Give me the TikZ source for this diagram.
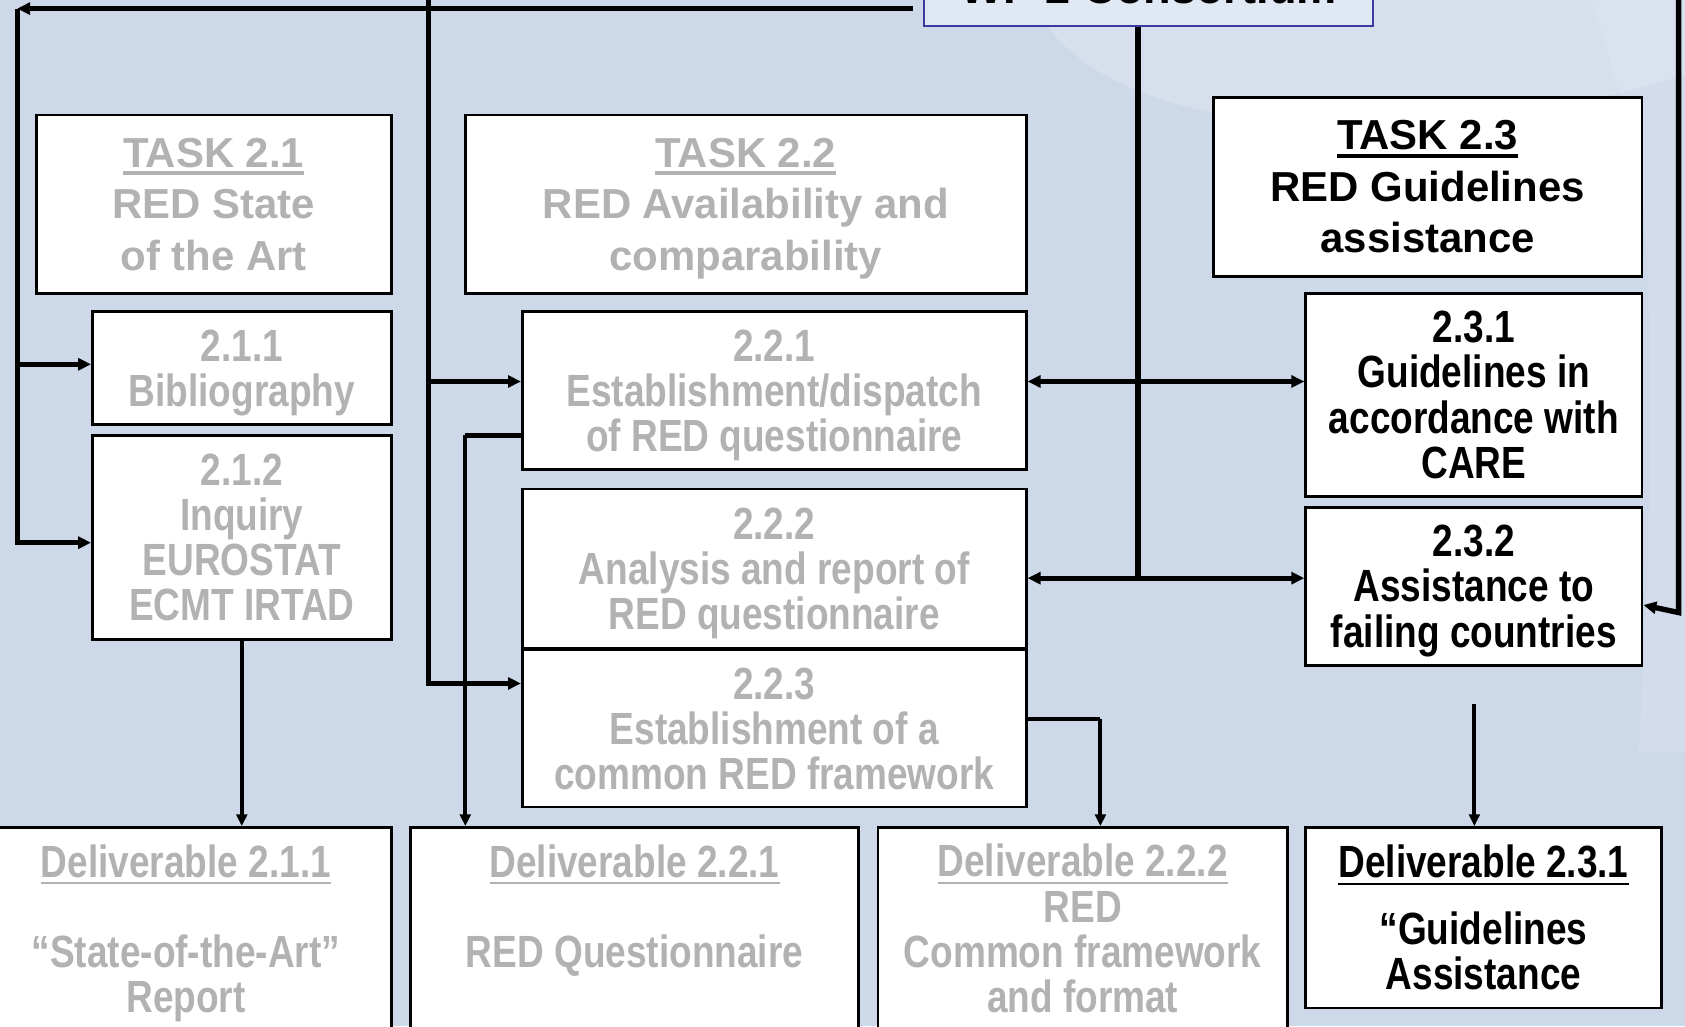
\documentclass[tikz,border=0pt]{standalone}
\usepackage{fontspec}
\setmainfont{Liberation Sans}
\newfontfamily\narrowfont{Liberation Sans}[FakeStretch=0.82]
\usetikzlibrary{arrows.meta}

\definecolor{slide}{RGB}{205,216,233}
\definecolor{wpfill}{RGB}{224,232,244}
\definecolor{wpedge}{RGB}{58,58,160}
\definecolor{faded}{RGB}{178,178,178}

% underlined headings (thick rule below the baseline)
\newcommand\ulTask[1]{\setbox0=\hbox{#1}\rlap{\rule[-7.4pt]{\wd0}{3.5pt}}\box0}
\newcommand\ulDel[1]{\setbox0=\hbox{#1}\rlap{\rule[-6.8pt]{\wd0}{2.4pt}}\box0}
% a line whose descenders do not count for centring
\newcommand\nodepth[1]{\raisebox{0pt}[\height][0pt]{#1}}

\begin{document}
\begin{tikzpicture}[x=1pt,y=-1pt,
  box/.style={draw=black,line width=2.5pt,fill=white,inner sep=0pt,align=center},
  taskbox/.style={box,font=\bfseries\fontsize{39}{48}\selectfont},
  subbox/.style={box,font=\narrowfont\bfseries\fontsize{42}{42}\selectfont},
  off/.style={text=faded},
  on/.style={text=black},
  arr/.tip={Triangle[length=12pt,width=11pt]},
  sarr/.tip={Triangle[length=11pt,width=10pt]},
  bus/.style={line width=5.5pt},
  link/.style={line width=5pt,-arr},
  both/.style={line width=4.5pt,arr-arr},
  drop/.style={line width=3.6pt,-sarr}]

\useasboundingbox (0,0) rectangle (1568,955);
\clip (0,0) rectangle (1568,955);

% slide background with faint light swooshes
\fill[slide] (0,0) rectangle (1568,955);
\fill[white,opacity=0.2] (960,0) .. controls (1000,90) and (1150,130) .. (1350,115)
  .. controls (1450,105) and (1530,80) .. (1568,70) -- (1568,0) -- cycle;
\fill[white,opacity=0.12] (1480,0) .. controls (1500,60) and (1520,120) .. (1530,200)
  .. controls (1540,350) and (1535,520) .. (1525,700) -- (1568,700) -- (1568,0) -- cycle;

% consortium box (cut by the top edge)
\node[draw=wpedge,line width=2pt,fill=wpfill,anchor=south,minimum width=418pt,
      inner xsep=0pt,inner ysep=21pt,text depth=0pt,
      font=\bfseries\fontsize{42}{48}\selectfont] (wp) at (1069,25) {WP 2 Consortium};

% tasks
\node[taskbox,off,minimum width=330pt,minimum height=166pt] (t21) at (199,190)
  {\ulTask{TASK 2.1}\\RED State\\of the Art};
\node[taskbox,off,minimum width=522pt,minimum height=166pt] (t22) at (694,190)
  {\ulTask{TASK 2.2}\\RED Availability and\\\nodepth{comparability}};
\node[taskbox,on,minimum width=399pt,minimum height=166pt] (t23) at (1328.5,174)
  {\ulTask{TASK 2.3}\\RED Guidelines\\assistance};

% sub-tasks
\node[subbox,off,minimum width=278pt,minimum height=105pt] (s211) at (225,342.5)
  {2.1.1\\\nodepth{Bibliography}};
\node[subbox,off,minimum width=278pt,minimum height=190pt] (s212) at (225,500)
  {2.1.2\\Inquiry\\EUROSTAT\\ECMT IRTAD};
\node[subbox,off,minimum width=469pt,minimum height=147pt] (s221) at (720.5,363.5)
  {2.2.1\\Establishment/dispatch\\\nodepth{of RED questionnaire}};
\node[subbox,off,minimum width=469pt,minimum height=148pt] (s222) at (720.5,529)
  {2.2.2\\Analysis and report of\\\nodepth{RED questionnaire}};
\node[subbox,off,minimum width=469pt,minimum height=146pt] (s223) at (720.5,678)
  {2.2.3\\Establishment of a\\common RED framework};
\node[subbox,on,minimum width=313pt,minimum height=189pt] (s231) at (1371.5,367.5)
  {2.3.1\\Guidelines in\\accordance with\\CARE};
\node[subbox,on,minimum width=313pt,minimum height=147pt] (s232) at (1371.5,545.5)
  {2.3.2\\Assistance to\\\nodepth{failing countries}};

% deliverables
\node[subbox,off,minimum width=382pt,minimum height=188pt] (d211) at (173,864)
  {\ulDel{Deliverable 2.1.1}\\[42pt]“State-of-the-Art”\\\nodepth{Report}};
\node[subbox,off,minimum width=417pt,minimum height=188pt] (d221) at (590.5,864)
  {\ulDel{Deliverable 2.2.1}\\[42pt]\nodepth{RED Questionnaire}\\\mbox{}};
\node[subbox,off,minimum width=381pt,minimum height=188pt] (d222) at (1007.5,864)
  {\ulDel{Deliverable 2.2.2}\\RED\\Common framework\\and format};
\node[subbox,on,minimum width=331pt,minimum height=168pt] (d231) at (1380.5,854)
  {\ulDel{Deliverable 2.3.1}\\[20pt]“Guidelines\\Assistance};

% bend and free-end points of the connectors
\coordinate (wpL) at (850,8);
\coordinate (cL)  at (16,8);
\coordinate (a0)  at (16,339);
\coordinate (topA) at (399,-3);
\coordinate (a1)  at (399,355);
\coordinate (k1)  at (433,405);
\coordinate (k2)  at (1024,669);
\coordinate (r1)  at (1059,355);
\coordinate (hub) at (1059,538);
\coordinate (topR) at (1562,-3);
\coordinate (kR)  at (1562,570);
\coordinate (s0)  at (1372,655);

% left column: consortium -> task 2.1 activities
\draw[link] (wpL) -- (cL);
\draw[link] (cL) |- ([yshift=-5pt]s212.west);
\draw[link] (a0) -- (a0 -| s211.west);

% middle column: task 2.2 activities
\draw[link] (topA) |- ([yshift=42pt]s223.west);
\draw[link] (a1) -- (a1 -| s221.west);

% activities -> deliverables
\draw[drop] (s212.south) -- (d211.north -| s212.south);
\draw[line width=4.5pt] ([yshift=-41.5pt]s221.west) -- (k1);
\draw[drop] (k1) -- (k1 |- d221.north);
\draw[line width=4.5pt] ([yshift=9pt]s223.east) -- (k2);
\draw[drop] (k2) -- (k2 |- d222.north);
\draw[drop] (s0) -- (s0 |- d231.north);

% consortium hub linking tasks 2.2 and 2.3
\draw[bus] (hub |- wp.south) -- (hub);
\draw[both] (r1 -| s221.east) -- (r1 -| s231.west);
\draw[both] (hub -| s222.east) -- (hub -| s232.west);

% right edge feed into 2.3.2
\draw[link] (topR) -- (kR) -- ([yshift=-17.5pt]s232.east);

\end{tikzpicture}
\end{document}
